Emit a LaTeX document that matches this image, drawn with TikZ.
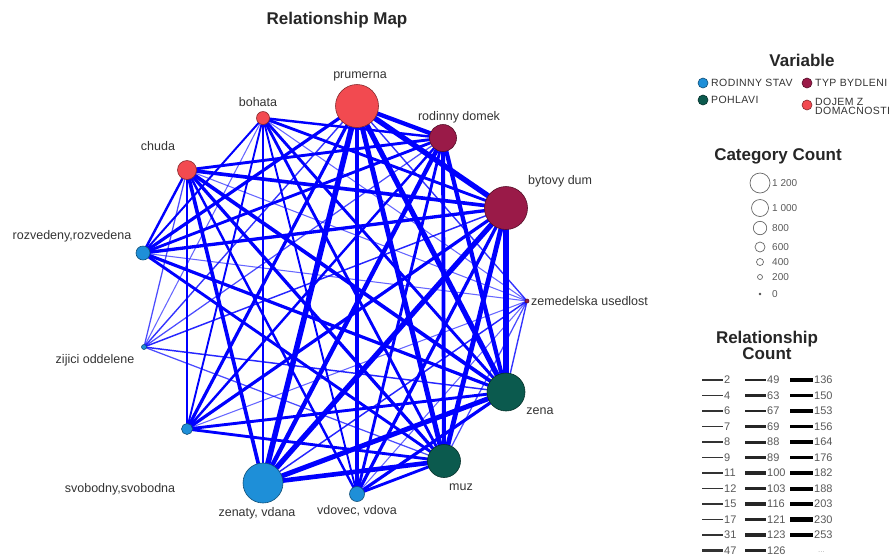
\documentclass[tikz,border=0pt]{standalone}
\usepackage{fontspec}
\setmainfont{Liberation Sans}
\definecolor{crs}{HTML}{1E8FD8}
\definecolor{cpo}{HTML}{0B5A4E}
\definecolor{cty}{HTML}{9A1A48}
\definecolor{cdo}{HTML}{F24A50}
\definecolor{edgeblue}{HTML}{0000FF}
\definecolor{txt}{HTML}{333333}
\pgfdeclarelayer{bg}
\pgfsetlayers{bg,main}
\tikzset{
  cat/.style={circle, draw=#1!55!black, fill=#1, inner sep=0pt, line width=0.6pt},
  lbl/.style={font=\fontsize{12.5}{14}\selectfont, text=txt, inner sep=0pt},
  hdr/.style={font=\fontsize{17}{19}\selectfont\bfseries, text=black!85, inner sep=0pt},
  legtxt/.style={font=\fontsize{10.5}{11}\selectfont\addfontfeature{LetterSpace=4}, text=txt, inner sep=0pt, anchor=west},
  legnum/.style={font=\fontsize{11}{12}\selectfont, text=black!65, inner sep=0pt, anchor=west},
  edge/.style={draw=edgeblue, line cap=butt},
  legcirc/.style={circle, draw=black!60, line width=0.7pt, inner sep=0pt}
}
\begin{document}
\begin{tikzpicture}[x=1pt,y=-1pt]
\useasboundingbox (0,0) rectangle (893,558);
% title
\node[hdr] (title) at (337,20) {Relationship Map};
% category nodes
\node[cat=cdo, minimum size=43pt] (pru) at (357,106) {};
\node[cat=cdo, minimum size=13pt] (boh) at (263,118) {};
\node[cat=cdo, minimum size=19pt] (chu) at (187,170) {};
\node[cat=cty, minimum size=27pt] (rod) at (443,138) {};
\node[cat=cty, minimum size=43pt] (byt) at (506,208) {};
\node[cat=cty, minimum size=4pt] (zem) at (527,301) {};
\node[cat=cpo, minimum size=38pt] (zena) at (506,392) {};
\node[cat=cpo, minimum size=33pt] (muz) at (444,461) {};
\node[cat=crs, minimum size=40pt] (zen) at (263,483) {};
\node[cat=crs, minimum size=15pt] (vdo) at (357,494) {};
\node[cat=crs, minimum size=14pt] (roz) at (143,253) {};
\node[cat=crs, minimum size=11pt] (svo) at (187,429) {};
\node[cat=crs, minimum size=5pt] (zij) at (144,347) {};
% labels
\node[lbl] (lpru) at (360,76) {prumerna};
\node[lbl] (lboh) at (258,102) {bohata};
\node[lbl] (lrod) at (459,117) {rodinny domek};
\node[lbl] (lchu) at (158,146) {chuda};
\node[lbl, anchor=west] (lbyt) at (528,181) {bytovy dum};
\node[lbl] (lroz) at (72,236) {rozvedeny,rozvedena};
\node[lbl, anchor=west] (lzem) at (531,301) {zemedelska usedlost};
\node[lbl] (lzij) at (95,360) {zijici oddelene};
\node[lbl] (lzena) at (540,411) {zena};
\node[lbl] (lsvo) at (120,489) {svobodny,svobodna};
\node[lbl] (lmuz) at (461,487) {muz};
\node[lbl] (lzen) at (257,513) {zenaty, vdana};
\node[lbl] (lvdo) at (357,511) {vdovec, vdova};
% edges
\begin{pgfonlayer}{bg}
\foreach \a/\b/\c in {
 pru/rod/126, pru/byt/214, pru/zem/6, boh/rod/31, boh/byt/47, boh/zem/2,
 chu/rod/49, chu/byt/88, chu/zem/2,
 pru/zena/203, pru/muz/176, boh/zena/49, boh/muz/47, chu/zena/89, chu/muz/69,
 pru/zen/230, pru/vdo/67, pru/roz/63, pru/svo/63, pru/zij/6,
 boh/zen/49, boh/vdo/15, boh/roz/17, boh/svo/15, boh/zij/2,
 chu/zen/88, chu/vdo/31, chu/roz/31, chu/svo/31, chu/zij/4,
 rod/zena/121, rod/muz/100, byt/zena/188, byt/muz/164, zem/zena/6, zem/muz/4,
 rod/zen/136, rod/vdo/47, rod/roz/47, rod/svo/31, rod/zij/4,
 byt/zen/203, byt/vdo/67, byt/roz/69, byt/svo/63, byt/zij/7,
 zem/zen/7, zem/vdo/2, zem/roz/2, zem/svo/2,
 zena/zen/182, zena/vdo/63, zena/roz/63, zena/svo/49, zena/zij/7,
 muz/zen/153, muz/vdo/47, muz/roz/49, muz/svo/47, muz/zij/4} {
  \pgfmathsetmacro\ew{0.6+5.2*sqrt(\c/253)}
  \pgfmathsetmacro\eo{min(1,0.5+\c/20)}
  \draw[edge, line width=\ew pt, draw opacity=\eo] (\a.center) -- (\b.center);
}
\end{pgfonlayer}
% legend: Variable
\node[hdr] (hvar) at (802,60) {Variable};
\node[cat=crs, minimum size=10pt] (vrs) at (703,83) {};
\node[legtxt] (trs) at (711,83) {RODINNY STAV};
\node[cat=cty, minimum size=10pt] (vty) at (807,83) {};
\node[legtxt] (tty) at (815,83) {TYP BYDLENI};
\node[cat=cpo, minimum size=10pt] (vpo) at (703,100) {};
\node[legtxt] (tpo) at (711,100) {POHLAVI};
\node[cat=cdo, minimum size=10pt] (vdo2) at (807,105) {};
\node[legtxt, align=left] (tdo) at (815,106) {DOJEM Z\\[-2pt]DOMACNOSTI};
% legend: Category Count
\node[hdr] (hcat) at (778,156) {Category Count};
\foreach \r/\yy/\t [count=\i] in {10/183/1 200, 8.5/208/1 000, 6.7/228/800, 5/247/600, 3.5/262/400, 2.5/277/200} {
  \node[legcirc, minimum size=2*\r pt] (cc\i) at (760,\yy) {};
  \node[legnum, font=\fontsize{10}{11}\selectfont] (ct\i) at (772,\yy) {\t};
}
\node[circle, fill=black!70, inner sep=0pt, minimum size=2.6pt] (cc7) at (760,294) {};
\node[legnum, font=\fontsize{10}{11}\selectfont] (ct7) at (772,294) {0};
% legend: Relationship Count
\node[hdr, align=center] (hrel) at (767,345) {Relationship\\[-3pt]Count};
\foreach \v [count=\i from 0] in {2,4,6,7,8,9,11,12,15,17,31,47} {
  \pgfmathsetmacro\yy{380+15.5*\i}
  \pgfmathsetmacro\lw{0.9+3.6*sqrt(\v/253)}
  \draw[black!80, line width=\lw pt] (702,\yy) -- (723,\yy);
  \node[legnum] (ra\i) at (724,\yy) {\v};
}
\foreach \v [count=\i from 0] in {49,63,67,69,88,89,100,103,116,121,123,126} {
  \pgfmathsetmacro\yy{380+15.5*\i}
  \pgfmathsetmacro\lw{0.9+3.6*sqrt(\v/253)}
  \draw[black!85, line width=\lw pt] (745,\yy) -- (766,\yy);
  \node[legnum] (rb\i) at (767,\yy) {\v};
}
\foreach \v [count=\i from 0] in {136,150,153,156,164,176,182,188,203,230,253} {
  \pgfmathsetmacro\yy{380+15.5*\i}
  \pgfmathsetmacro\lw{0.9+3.6*sqrt(\v/253)}
  \draw[black, line width=\lw pt] (790,\yy) -- (813,\yy);
  \node[legnum] (rc\i) at (814,\yy) {\v};
}
\node[legnum, text=black!30, font=\fontsize{8}{9}\selectfont] (rdots) at (818,552) {...};
\end{tikzpicture}
\end{document}
